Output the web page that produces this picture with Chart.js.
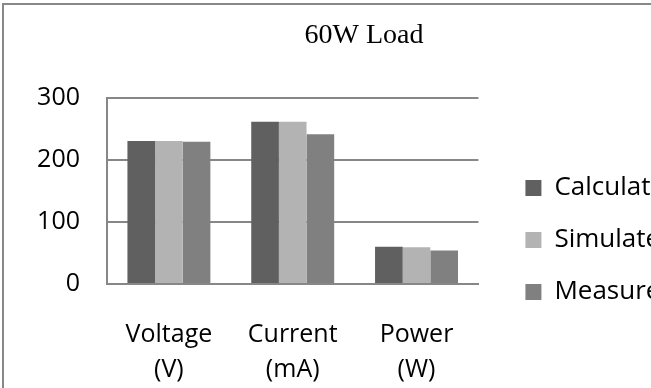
<!DOCTYPE html>
<html>
<head>
<meta charset="utf-8">
<script src="https://cdn.jsdelivr.net/npm/chart.js@4.4.1/dist/chart.umd.min.js"></script>
<style>
  html, body { margin: 0; padding: 0; background: #fff; overflow: hidden; }
  body { width: 651px; height: 388px; position: relative; }
  .frame { position: absolute; left: 2px; top: 3px; width: 760px; height: 400px; border-left: 2px solid #888; border-top: 2px solid #888; }
  .wrap { position: absolute; left: 0; top: 0; width: 728px; height: 388px; }
</style>
</head>
<body>
<div class="frame"></div>
<div class="wrap"><canvas id="loadChart"></canvas></div>
<script>
const categories = [["Voltage", "(V)"], ["Current", "(mA)"], ["Power", "(W)"]];
const seriesNames = ["Calculated", "Simulated", "Measured"];
const calculated = [230, 261, 60];
const simulated = [230, 261, 59];
const measured = [229, 241, 54];
const yTicks = [0, 100, 200, 300];

const barColors = ["#606060", "#b3b3b3", "#808080"];
const gridGray = "#878787";
const labelFont = { family: "Open Sans", size: 25 };

// blank right-hand scales used only as spacers around the legend
function spacer(width, weight) {
  return {
    type: "linear",
    position: "right",
    display: true,
    weight: weight,
    grid: { display: false, drawTicks: false },
    ticks: { display: false },
    border: { display: false },
    afterFit: (scale) => { scale.width = width; }
  };
}

const ctx = document.getElementById("loadChart").getContext("2d");
const loadChart = new Chart(ctx, {
  type: "bar",
  data: {
    labels: categories,
    datasets: [
      { label: seriesNames[0], data: calculated, backgroundColor: barColors[0], yAxisID: "y" },
      { label: seriesNames[1], data: simulated, backgroundColor: barColors[1], yAxisID: "y" },
      { label: seriesNames[2], data: measured, backgroundColor: barColors[2], yAxisID: "y" }
    ]
  },
  options: {
    responsive: true,
    maintainAspectRatio: false,
    animation: false,
    datasets: {
      bar: { categoryPercentage: 0.67, barPercentage: 1.0 }
    },
    layout: {
      padding: { left: 0, right: 0, top: 0, bottom: 4 }
    },
    plugins: {
      title: {
        display: true,
        text: "60W Load",
        color: "#000",
        font: { family: "Liberation Serif", size: 28, weight: "normal", lineHeight: 1.2 },
        padding: { top: 19, bottom: 45 }
      },
      legend: {
        position: "right",
        align: "start",
        maxWidth: 400,
        // empty title only pushes the items down
        title: { display: true, text: "", font: { size: 10, lineHeight: 1 }, padding: { top: 139, bottom: 0 } },
        labels: {
          boxWidth: 16,
          boxHeight: 16,
          padding: 26,
          color: "#000",
          font: { family: "Open Sans", size: 26 }
        }
      },
      tooltip: { enabled: false }
    },
    scales: {
      x: {
        grid: { display: false, drawTicks: false },
        border: { display: true, color: gridGray, width: 2 },
        ticks: {
          color: "#000",
          padding: 33,
          maxRotation: 0,
          autoSkip: false,
          font: { family: "Open Sans", size: 25, lineHeight: 1.4 }
        },
        afterFit: (scale) => { scale.height = 100; }
      },
      y: {
        min: yTicks[0],
        max: yTicks[yTicks.length - 1],
        ticks: {
          stepSize: yTicks[1] - yTicks[0],
          color: "#000",
          padding: 27,
          font: labelFont
        },
        grid: { color: gridGray, lineWidth: 2, drawTicks: false },
        border: { color: gridGray, width: 2 },
        afterFit: (scale) => { scale.width = 107; }
      },
      gap: spacer(21, 0),
      edge: spacer(37, 2000)
    }
  }
});
</script>
</body>
</html>
